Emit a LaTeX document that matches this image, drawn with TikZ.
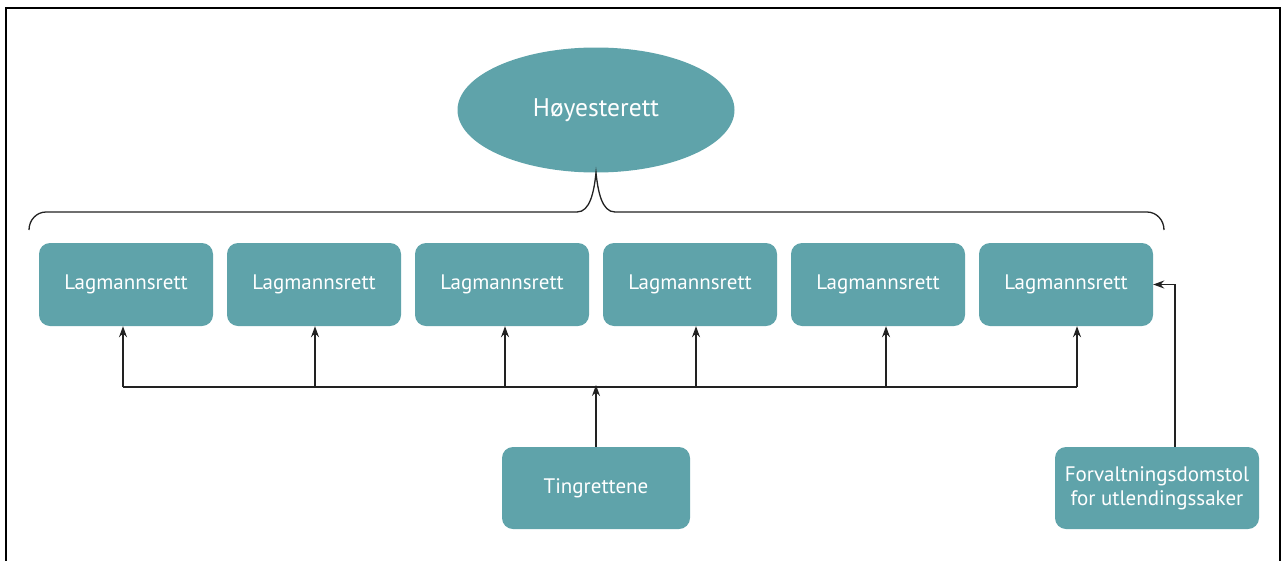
\documentclass[tikz,border=0pt]{standalone}
\usepackage{fontspec}
\setmainfont{PT Sans}
\usetikzlibrary{arrows.meta,shapes.geometric}
\definecolor{court}{HTML}{5FA3AA}
\definecolor{wire}{HTML}{222222}
\tikzset{
  court/.style={fill=court, draw=none, text=white, rounded corners=11pt,
    minimum width=174pt, minimum height=83pt, inner sep=0pt, align=center,
    font=\fontsize{21}{24}\selectfont},
  wire/.style={draw=wire, line width=1.3pt},
  arr/.style={wire, -{Stealth[length=11pt,width=8pt]}},
}
\begin{document}
\begin{tikzpicture}[x=1pt,y=-1pt]
\useasboundingbox (0,0) rectangle (1282,560);
% outer frame (open at the bottom edge of the page)
\begin{scope}
\clip (0,0) rectangle (1282,560);
\draw[line width=2.8pt] (6,8) rectangle (1280,600);
\end{scope}

% supreme court
\node[ellipse, fill=court, text=white, minimum width=277pt, minimum height=125pt,
  inner sep=0pt, font=\fontsize{25.5}{28}\selectfont] (H) at (596,110) {Høyesterett};

% brace under the supreme court
\coordinate (bl) at (29,230);
\coordinate (br) at (1164,230);
\draw[wire] (bl) to[out=90,in=180] (46,212) -- (577,212)
  .. controls (590,212) and (594,192) .. (H.south)
  .. controls (598,192) and (602,212) .. (615,212) -- (1147,212)
  to[out=0,in=90] (br);

% courts of appeal
\node[court] (L1) at (126,284.5) {Lagmannsrett};
\node[court] (L2) at (314,284.5) {Lagmannsrett};
\node[court] (L3) at (502,284.5) {Lagmannsrett};
\node[court] (L4) at (690,284.5) {Lagmannsrett};
\node[court] (L5) at (878,284.5) {Lagmannsrett};
\node[court] (L6) at (1066,284.5) {Lagmannsrett};

% lower courts
\node[court, minimum width=188pt, minimum height=82pt] (T) at (596,488) {Tingrettene};
\node[court, minimum width=204pt, minimum height=82pt] (F) at (1157,488)
  {Forvaltningsdomstol\\for utlendingssaker};

% distribution bus
\coordinate (b1) at (123,387);
\coordinate (b2) at (315,387);
\coordinate (b3) at (505,387);
\coordinate (b4) at (696,387);
\coordinate (b5) at (886,387);
\coordinate (b6) at (1077,387);
\draw[wire] (b1) -- (b6);
\foreach \i in {1,...,6} {
  \draw[arr] (b\i) -- (b\i |- L\i.south);
}
\draw[arr] (T.north) -- ([yshift=2pt]T.north |- b1);
\draw[arr] ([xshift=18pt]F.north) |- (L6.east);
\end{tikzpicture}
\end{document}
